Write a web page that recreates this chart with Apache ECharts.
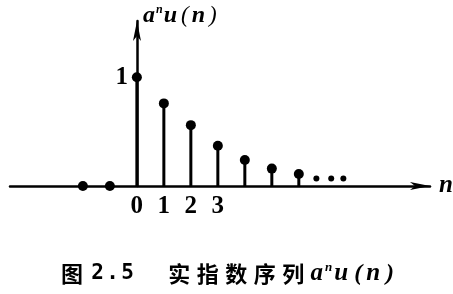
<!DOCTYPE html>
<html>
<head>
<meta charset="utf-8">
<script src="https://cdn.jsdelivr.net/npm/echarts@6/dist/echarts.min.js"></script>
<style>html,body{margin:0;padding:0;background:#fff;}#c{width:453px;height:294px;}</style>
</head>
<body>
<div id="c"></div>
<script>
// Data
const nValues = [-2, -1, 0, 1, 2, 3, 4, 5, 6];
const seqValues = [0, 0, 1, 0.76, 0.56, 0.37, 0.24, 0.16, 0.11];
const ellipsisN = [6.65, 7.2, 7.65];
const ellipsisY = [0.07, 0.07, 0.07];
const xTickLabels = [0, 1, 2, 3];
const yTickLabels = [1];
const captionPrefix = '图';
const captionNumber = '2.5';
const captionText = ['实', '指', '数', '序', '列'];

const serif = '"Liberation Serif", "DejaVu Serif", serif';
const cjk = '"Noto Sans CJK SC", sans-serif';
const mono = '"DejaVu Sans Mono", "Liberation Mono", monospace';

const stemData = nValues.map((n, i) => [n, seqValues[i]]);
const ellData = ellipsisN.map((n, i) => [n, ellipsisY[i]]);

const chart = echarts.init(document.getElementById('c'), null, {renderer: 'canvas'});

function mathRich(size, gap) {
  return {
    i: {fontFamily: serif, fontStyle: 'italic', fontWeight: 'bold', fontSize: size, color: '#000', padding: [0, gap, 0, 0]},
    sup: {fontFamily: serif, fontStyle: 'italic', fontWeight: 'bold', fontSize: Math.round(size * 0.5), color: '#000', verticalAlign: 'top', padding: [0, gap, Math.round(size * 0.45), 0]},
    p: {fontFamily: serif, fontStyle: 'italic', fontSize: size - 1, color: '#000', padding: [0, gap + 2, 0, gap + 2]}
  };
}

const captionRich = Object.assign({}, mathRich(25, 2), {
  c0: {fontFamily: cjk, fontWeight: 'bold', fontSize: 22, color: '#000', width: 22, align: 'center'},
  c: {fontFamily: cjk, fontWeight: 'bold', fontSize: 22, color: '#000', width: 28.5, align: 'center'},
  d: {fontFamily: mono, fontWeight: 'bold', fontSize: 21, color: '#000', width: 15, align: 'center'},
  g: {fontSize: 22, width: 7},
  gg: {fontSize: 22, width: 30},
  g2: {fontSize: 22, width: 3}
});

const mathStr = '{i|a}{sup|n}{i|u}{p|(}{i|n}{p|)}';
const captionStr = '{c0|' + captionPrefix + '}{g|}' +
  captionNumber.split('').map(ch => '{d|' + ch + '}').join('') +
  '{gg|}' + captionText.map(ch => '{c|' + ch + '}').join('') +
  '{g2|}' + mathStr;

chart.setOption({
  animation: false,
  backgroundColor: '#fff',
  title: {
    text: captionStr,
    left: 61,
    top: 261,
    padding: 0,
    textStyle: {rich: captionRich}
  },
  grid: {left: 10, right: 23, top: 21, bottom: 108, containLabel: false, outerBoundsMode: 'none'},
  xAxis: {
    type: 'value',
    min: -4.7,
    max: 10.86,
    splitLine: {show: false},
    axisTick: {show: false},
    axisLine: {
      onZero: true,
      lineStyle: {color: '#000', width: 2.5},
      symbol: ['none', 'arrow'],
      symbolSize: [6, 20]
    },
    axisLabel: {
      customValues: xTickLabels,
      fontFamily: serif,
      fontWeight: 'bold',
      fontSize: 25,
      color: '#000',
      margin: 8
    },
    name: 'n',
    nameLocation: 'end',
    nameGap: 9,
    nameTextStyle: {fontFamily: serif, fontStyle: 'italic', fontWeight: 'bold', fontSize: 25, color: '#000', verticalAlign: 'middle'}
  },
  yAxis: {
    type: 'value',
    min: 0,
    max: 1.518,
    position: 'left',
    offset: -127,
    splitLine: {show: false},
    axisTick: {show: false},
    axisLine: {
      onZero: false,
      lineStyle: {color: '#000', width: 2.5},
      symbol: ['none', 'arrow'],
      symbolSize: [6, 20]
    },
    axisLabel: {
      customValues: yTickLabels,
      fontFamily: serif,
      fontWeight: 'bold',
      fontSize: 25,
      color: '#000',
      margin: 9
    },
    name: mathStr,
    nameLocation: 'end',
    nameGap: 5,
    nameTextStyle: {align: 'left', verticalAlign: 'middle', padding: [0, 0, 0, 6], rich: mathRich(24, 1)}
  },
  series: [
    {
      type: 'bar',
      data: stemData,
      barWidth: 3,
      itemStyle: {color: '#000'},
      silent: true
    },
    {
      type: 'scatter',
      data: stemData,
      symbol: 'circle',
      symbolSize: 10,
      itemStyle: {color: '#000', opacity: 1},
      z: 5
    },
    {
      type: 'scatter',
      data: ellData,
      symbol: 'circle',
      symbolSize: 6,
      itemStyle: {color: '#000', opacity: 1},
      z: 5
    }
  ]
});
</script>
</body>
</html>
